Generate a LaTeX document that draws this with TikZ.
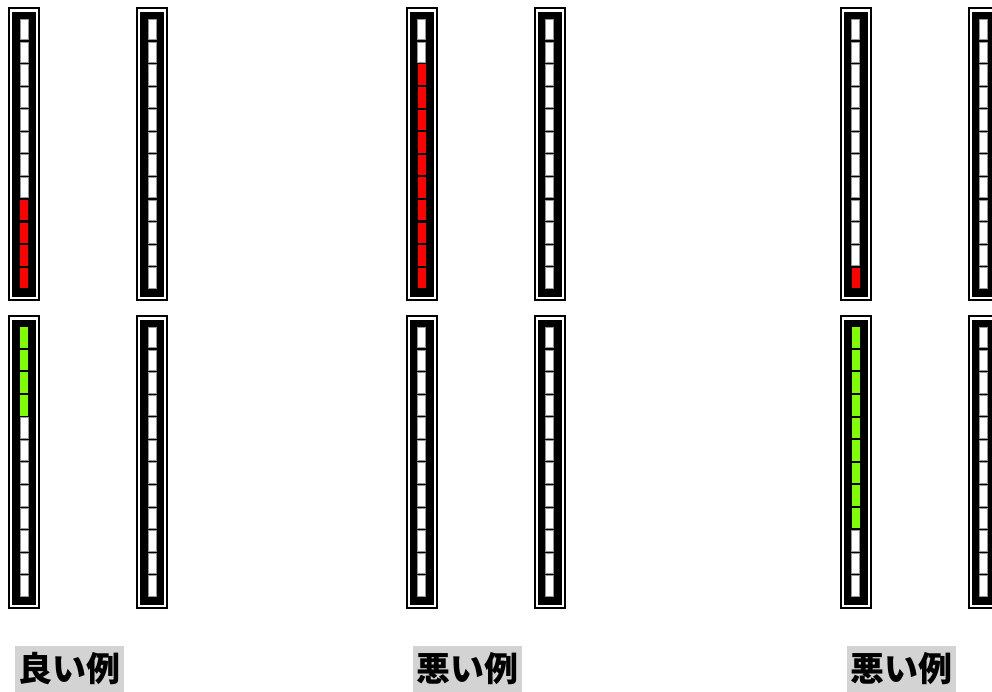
\documentclass[tikz,border=0pt]{standalone}
\usepackage{fontspec}
\newfontfamily\cjk{Noto Sans CJK JP}
\definecolor{meterred}{RGB}{255,0,0}
\definecolor{metergreen}{RGB}{128,255,0}
\definecolor{labelgray}{RGB}{211,211,211}
\definecolor{celledge}{RGB}{150,150,150}
\tikzset{
  frameline/.style={draw=black,line width=2pt},
  meterbody/.style={fill=black},
  cellbox/.style={draw=celledge,line width=0.7pt},
  labelbox/.style={fill=labelgray,inner sep=0pt,minimum width=109pt,minimum height=46pt,
    font=\cjk\bfseries\fontsize{34}{34}\selectfont,text=black}
}
% #1 centre x, #2 top y, #3 colour, #4 first filled cell, #5 last filled cell (0 = top)
\newcommand\drawmeter[5]{%
  \draw[frameline] (#1-15,#2+1) rectangle (#1+15,#2+293);
  \fill[meterbody] (#1-12,#2+5) rectangle (#1+12,#2+290);
  \foreach \i in {0,...,11}{%
    \pgfmathsetmacro\ya{#2+12+22.58*\i+0.3}%
    \pgfmathsetmacro\yb{#2+12+22.58*(\i+1)-1.8}%
    \ifnum\i<#4\relax
      \filldraw[cellbox,fill=white] (#1-4,\ya) rectangle (#1+4,\yb);
    \else\ifnum\i>#5\relax
      \filldraw[cellbox,fill=white] (#1-4,\ya) rectangle (#1+4,\yb);
    \else
      \fill[#3] (#1-4,\ya) rectangle (#1+4,\yb);
    \fi\fi
  }%
}
\begin{document}
\begin{tikzpicture}[x=1pt,y=-1pt]
\useasboundingbox (0,0) rectangle (992,691);
% top row
\drawmeter{24}{7}{meterred}{8}{11}
\drawmeter{152}{7}{meterred}{99}{99}
\drawmeter{421.5}{7}{meterred}{2}{11}
\drawmeter{549.5}{7}{meterred}{99}{99}
\drawmeter{855.5}{7}{meterred}{11}{11}
\drawmeter{983.5}{7}{meterred}{99}{99}
% bottom row
\drawmeter{24}{315}{metergreen}{0}{3}
\drawmeter{152}{315}{metergreen}{99}{99}
\drawmeter{421.5}{315}{metergreen}{99}{99}
\drawmeter{549.5}{315}{metergreen}{99}{99}
\drawmeter{855.5}{315}{metergreen}{0}{8}
\drawmeter{983.5}{315}{metergreen}{99}{99}
% labels
\node[labelbox] (good) at (69.5,668.5) {\raisebox{-2.5pt}{良い例}};
\node[labelbox] (bad1) at (467.5,668.5) {\raisebox{-2.5pt}{悪い例}};
\node[labelbox] (bad2) at (901.5,668.5) {\raisebox{-2.5pt}{悪い例}};
\end{tikzpicture}
\end{document}
